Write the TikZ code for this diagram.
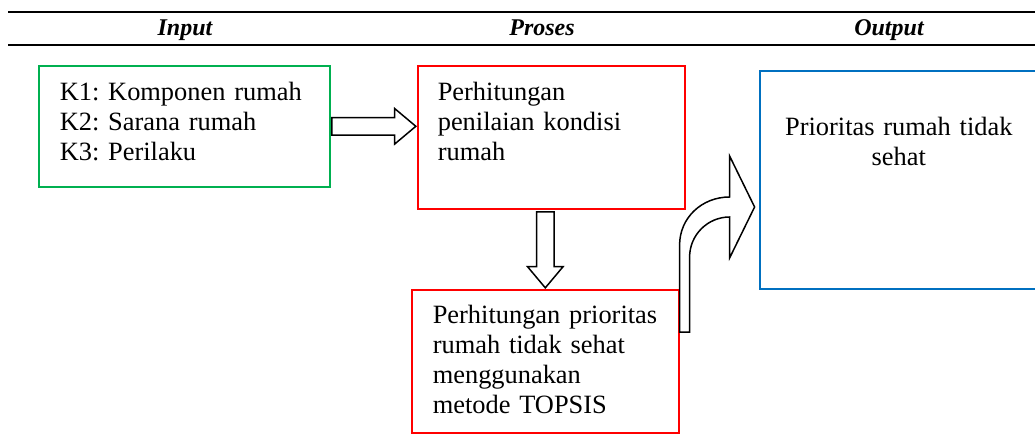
\documentclass[tikz,border=0pt]{standalone}
\usepackage{fontspec}
\setmainfont{Liberation Serif}
\usepackage{xcolor}
\usepackage{tikz}
\usetikzlibrary{shapes.arrows}
\usetikzlibrary{calc}

\definecolor{inputgreen}{HTML}{00B050}
\definecolor{prosesred}{HTML}{FF0000}
\definecolor{outputblue}{HTML}{0070C0}
\frenchspacing

\begin{document}
\begin{tikzpicture}[x=0.5pt, y=-0.5pt,
		head/.style={anchor=base, font=\fontsize{12pt}{14pt}\selectfont\bfseries\itshape},
		box/.style={draw, line width=0.8pt, anchor=north west, inner ysep=0pt,
			align=left, font=\fontsize{13.2pt}{15pt}\selectfont},
		blockarrow/.style={single arrow, draw, line width=0.75pt, fill=white,
			inner sep=4pt, single arrow head extend=4.5pt,
			single arrow tip angle=80, minimum height=42pt}]
	\useasboundingbox (0,0) rectangle (1035,439);
	\clip (0,0) rectangle (1035,439);

	% header
	\draw [line width=1pt] (8,12) -- (1035,12);
	\draw [line width=1pt] (8,45) -- (1035,45);
	\node [head] (hinput) at (185,35) {Input};
	\node [head] (hproses) at (542,35) {Proses};
	\node [head] (houtput) at (889,35) {Output};

	% boxes
	\node [box, draw=inputgreen, text width=124.5pt, inner xsep=10.5pt,
		text height=17.5pt, text depth=43pt]
		(input) at (38,65) {K1: Komponen rumah\\ K2: Sarana rumah\\ K3: Perilaku};
	\node [box, draw=prosesred, text width=113.5pt, inner xsep=10pt,
		text height=17.5pt, text depth=54pt]
		(nilai) at (417,65) {Perhitungan\\ penilaian kondisi\\ rumah};
	\node [box, draw=prosesred, text width=112.5pt, inner xsep=10.5pt,
		text height=17pt, text depth=54.5pt]
		(topsis) at (411,289) {Perhitungan prioritas\\ rumah tidak sehat\\ menggunakan\\ metode TOPSIS};
	\node [box, draw=outputblue, align=center, text width=119pt, inner xsep=10pt,
		text height=32.5pt, text depth=76.5pt]
		(hasil) at (759,70) {Prioritas rumah tidak\\ sehat};

	% arrows
	\node [blockarrow, anchor=tip] (keproses) at (nilai.west |- input.east) {};
	\node [blockarrow, anchor=tip, rotate=-90, minimum height=38pt]
		(ketopsis) at (topsis.north) {};
	\draw [line width=0.75pt, fill=white, line join=miter]
		($(topsis.north east)+(0,43)$) -- ++(0,-87)
		.. controls +(0,-27) and +(-28,0) .. ++(50,-48)
		-- ++(0,-41) -- ++(25,51) -- ++(-25,51) -- ++(0,-41)
		.. controls +(-22,0) and +(0,-22) .. ++(-40,40)
		-- ++(0,75) -- cycle;
\end{tikzpicture}
\end{document}
